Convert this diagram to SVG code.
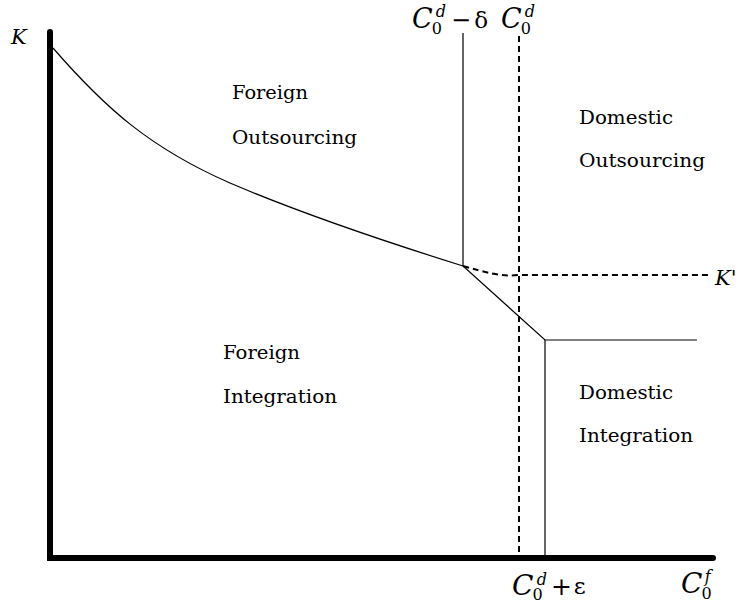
<svg xmlns="http://www.w3.org/2000/svg" width="739" height="614" viewBox="0 0 739 614">
<style>
text{font-family:'DejaVu Serif','Liberation Serif','Noto Serif',serif;fill:#000}
.lbl{font-size:19px}
.it{font-style:italic}
.s{fill:none;stroke:#000;stroke-width:1.2}
.d{fill:none;stroke:#000;stroke-width:2;stroke-dasharray:6,4}
.ax{fill:none;stroke:#000;stroke-width:6;stroke-linecap:round}
</style>
<rect width="739" height="614" fill="#fff"/>
<g id="connectors">
<path class="s" d="M53,48 C105,108 150,148 230,183 C300,213 380,240 463,266"/>
<path class="s" d="M463,33 V266 L545,340 H697"/>
<path class="s" d="M545,340 V558"/>
<path class="d" d="M519,36 V558"/>
<path class="d" d="M463,266 C485,272 500,277 519,275 H708"/>
<path class="ax" d="M50,32 V558 H713"/>
</g>
<g id="fo"><text class="lbl" x="232" y="99" textLength="76" lengthAdjust="spacingAndGlyphs">Foreign</text><text class="lbl" x="232" y="144" textLength="125" lengthAdjust="spacingAndGlyphs">Outsourcing</text></g>
<g id="do"><text class="lbl" x="579" y="124" textLength="94" lengthAdjust="spacingAndGlyphs">Domestic</text><text class="lbl" x="579" y="167" textLength="126" lengthAdjust="spacingAndGlyphs">Outsourcing</text></g>
<g id="fi"><text class="lbl" x="223" y="359" textLength="77" lengthAdjust="spacingAndGlyphs">Foreign</text><text class="lbl" x="223" y="403" textLength="114" lengthAdjust="spacingAndGlyphs">Integration</text></g>
<g id="di"><text class="lbl" x="579" y="399" textLength="94" lengthAdjust="spacingAndGlyphs">Domestic</text><text class="lbl" x="579" y="442" textLength="114" lengthAdjust="spacingAndGlyphs">Integration</text></g>
<g id="labels">
<text class="it" x="11" y="44" font-size="21">K</text>
<text class="it" x="715" y="285" font-size="21">K'</text>
<text x="412" y="28" font-size="16"><tspan class="it" font-size="27">C</tspan><tspan dx="-1" dy="6">0</tspan><tspan class="it" dx="-6" dy="-17">d</tspan><tspan font-size="24" dx="5" dy="11">−</tspan><tspan font-size="23" dx="3">δ</tspan></text>
<text x="501" y="28" font-size="16"><tspan class="it" font-size="27">C</tspan><tspan dx="-1" dy="6">0</tspan><tspan class="it" dx="-6" dy="-17">d</tspan></text>
<text x="512" y="595" font-size="16"><tspan class="it" font-size="28">C</tspan><tspan dx="-1" dy="5">0</tspan><tspan class="it" dx="-6" dy="-15">d</tspan><tspan font-size="25" dx="4" dy="10">+</tspan><tspan font-size="23" dx="2" dy="-1">ε</tspan></text>
<text x="681" y="593" font-size="16"><tspan class="it" font-size="28">C</tspan><tspan dx="-1" dy="6">0</tspan><tspan class="it" dx="-7" dy="-17">f</tspan></text>
</g>
</svg>
